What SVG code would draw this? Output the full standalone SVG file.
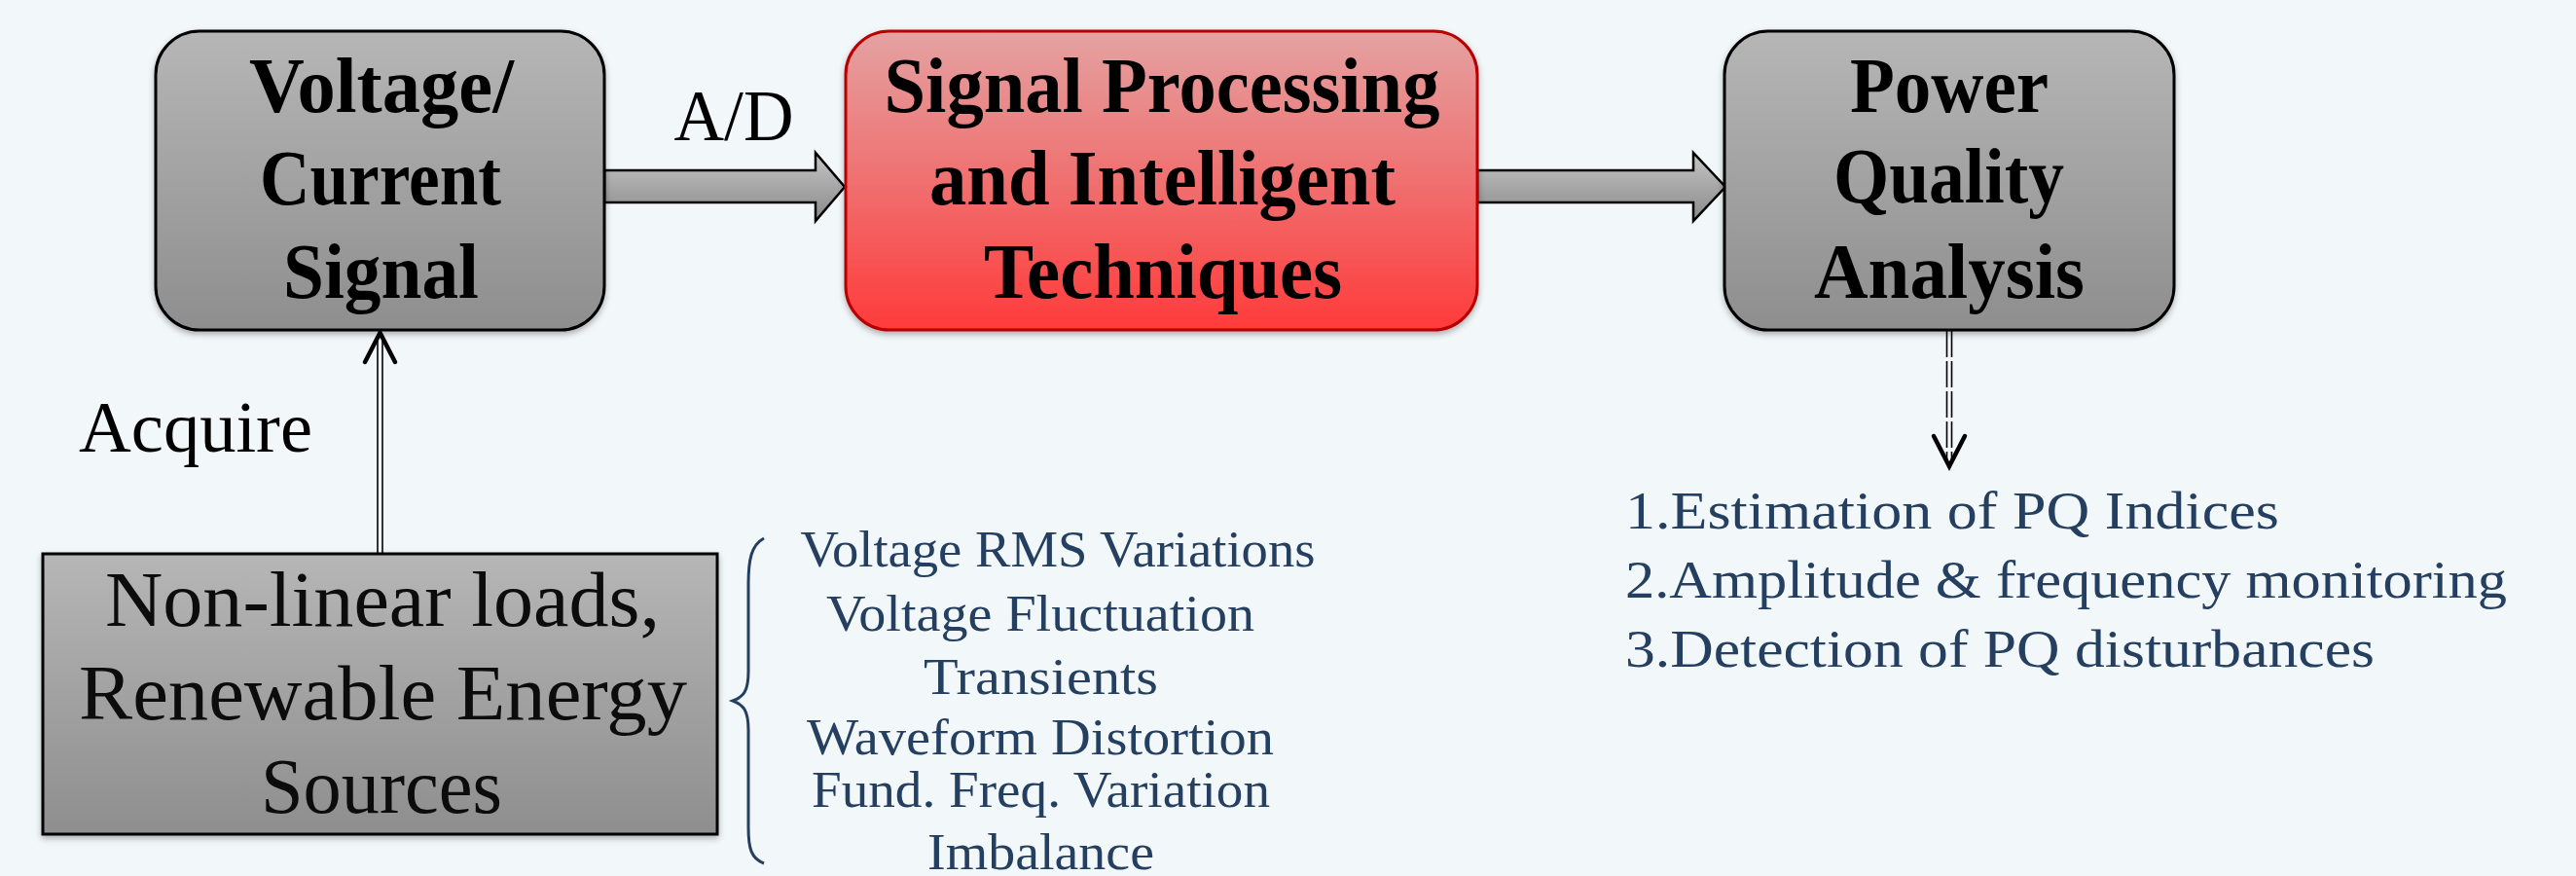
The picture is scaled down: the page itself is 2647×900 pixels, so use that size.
<svg xmlns="http://www.w3.org/2000/svg" width="2647" height="900" viewBox="0 0 2647 900">
  <defs>
    <linearGradient id="gray" x1="0" y1="0" x2="0" y2="1">
      <stop offset="0" stop-color="#b6b6b6"/>
      <stop offset="1" stop-color="#8e8e8e"/>
    </linearGradient>
    <linearGradient id="red" x1="0" y1="0" x2="0" y2="1">
      <stop offset="0" stop-color="#e4a2a2"/>
      <stop offset="0.5" stop-color="#f07070"/>
      <stop offset="1" stop-color="#ff3a3a"/>
    </linearGradient>
    <linearGradient id="shaft" x1="0" y1="0" x2="0" y2="1">
      <stop offset="0" stop-color="#c4c4c4"/>
      <stop offset="1" stop-color="#8a8a8a"/>
    </linearGradient>
    <filter id="shadow" x="-5%" y="-5%" width="110%" height="115%">
      <feDropShadow dx="0" dy="3" stdDeviation="3" flood-color="#000" flood-opacity="0.3"/>
    </filter>
  </defs>
  <style>
    .title { font-family: "Liberation Serif", "Times New Roman", serif; font-weight: bold; font-size: 80px; fill: #000; text-anchor: middle; }
    .label { font-family: "Liberation Serif", "Times New Roman", serif; font-size: 75px; fill: #000; text-anchor: middle; }
    .src { font-family: "Liberation Serif", "Times New Roman", serif; font-size: 80px; fill: #0c0c0c; text-anchor: middle; }
    .item { font-family: "Liberation Serif", "Times New Roman", serif; font-size: 52px; fill: #243f60; text-anchor: middle; }
    .out { font-family: "Liberation Serif", "Times New Roman", serif; font-size: 54px; fill: #243f60; }
    .box { stroke: #000; stroke-width: 3; }
    .blk { fill: url(#shaft); stroke: #000; stroke-width: 2.5; stroke-linejoin: miter; }
    .line { stroke: #000; stroke-width: 1.6; fill: none; }
    .head { stroke: #000; stroke-width: 4.5; fill: none; stroke-linecap: round; stroke-linejoin: miter; }
  </style>

  <rect x="0" y="0" width="2647" height="900" fill="#f2f7fa"/>

  <!-- connectors -->
  <g id="connectors">
    <!-- A/D block arrow -->
    <polygon class="blk" points="621,175 838,175 838,157 868,192 838,227 838,208 621,208"/>
    <text class="label" x="754" y="144" textLength="123" lengthAdjust="spacingAndGlyphs">A/D</text>
    <!-- processing to analysis -->
    <polygon class="blk" points="1518,175 1740,175 1740,157 1773,192 1740,227 1740,208 1518,208"/>
    <!-- acquire: double line upward -->
    <line class="line" x1="388" y1="569" x2="388" y2="346"/>
    <line class="line" x1="393" y1="569" x2="393" y2="346"/>
    <polyline class="head" points="375,372 390.5,342 406,372"/>
    <text class="label" x="201" y="464" textLength="240" lengthAdjust="spacingAndGlyphs">Acquire</text>
    <!-- analysis to outputs: dashed double line -->
    <line class="line" x1="2000.5" y1="340" x2="2000.5" y2="476" stroke-dasharray="27 4"/>
    <line class="line" x1="2005.5" y1="340" x2="2005.5" y2="476" stroke-dasharray="27 4"/>
    <polyline class="head" points="1987,448 2003,479 2019,448"/>
    <!-- brace -->
    <path d="M785,553 C772,560 769,575 769,600 L769,690 C769,710 764,716 753,720 C764,724 769,730 769,750 L769,850 C769,872 772,882 785,887" fill="none" stroke="#243f60" stroke-width="3"/>
  </g>

  <!-- Voltage/Current Signal -->
  <g id="node-signal">
    <rect class="box" x="160" y="32" width="461" height="307" rx="45" ry="45" fill="url(#gray)" filter="url(#shadow)"/>
    <text class="title" x="392" y="115" textLength="272" lengthAdjust="spacingAndGlyphs">Voltage/</text>
    <text class="title" x="391" y="210" textLength="248" lengthAdjust="spacingAndGlyphs">Current</text>
    <text class="title" x="391.5" y="306" textLength="201" lengthAdjust="spacingAndGlyphs">Signal</text>
  </g>

  <!-- Signal Processing and Intelligent Techniques -->
  <g id="node-processing">
    <rect x="869" y="32" width="649" height="307" rx="45" ry="45" fill="url(#red)" stroke="#b80000" stroke-width="3" filter="url(#shadow)"/>
    <text class="title" x="1194" y="115" textLength="571" lengthAdjust="spacingAndGlyphs">Signal Processing</text>
    <text class="title" x="1194.5" y="210" textLength="479" lengthAdjust="spacingAndGlyphs">and Intelligent</text>
    <text class="title" x="1195" y="306" textLength="368" lengthAdjust="spacingAndGlyphs">Techniques</text>
  </g>

  <!-- Power Quality Analysis -->
  <g id="node-analysis">
    <rect class="box" x="1772" y="32" width="462" height="307" rx="45" ry="45" fill="url(#gray)" filter="url(#shadow)"/>
    <text class="title" x="2003" y="115" textLength="204" lengthAdjust="spacingAndGlyphs">Power</text>
    <text class="title" x="2002.5" y="208" textLength="237" lengthAdjust="spacingAndGlyphs">Quality</text>
    <text class="title" x="2003" y="306" textLength="278" lengthAdjust="spacingAndGlyphs">Analysis</text>
  </g>

  <!-- Sources -->
  <g id="node-sources">
    <rect class="box" x="44" y="569" width="693" height="288" fill="url(#gray)" filter="url(#shadow)"/>
    <text class="src" x="393" y="643" textLength="570" lengthAdjust="spacingAndGlyphs">Non-linear loads,</text>
    <text class="src" x="393.5" y="739" textLength="625" lengthAdjust="spacingAndGlyphs">Renewable Energy</text>
    <text class="src" x="392" y="835" textLength="248" lengthAdjust="spacingAndGlyphs">Sources</text>
  </g>

  <!-- Disturbance list -->
  <g id="node-disturbances">
    <text class="item" x="1087" y="582" textLength="529" lengthAdjust="spacingAndGlyphs">Voltage RMS Variations</text>
    <text class="item" x="1069" y="648" textLength="440" lengthAdjust="spacingAndGlyphs">Voltage Fluctuation</text>
    <text class="item" x="1069.5" y="713" textLength="241" lengthAdjust="spacingAndGlyphs">Transients</text>
    <text class="item" x="1069" y="775" textLength="480" lengthAdjust="spacingAndGlyphs">Waveform Distortion</text>
    <text class="item" x="1069.5" y="829" textLength="471" lengthAdjust="spacingAndGlyphs">Fund. Freq. Variation</text>
    <text class="item" x="1069.5" y="893" textLength="233" lengthAdjust="spacingAndGlyphs">Imbalance</text>
  </g>

  <!-- Analysis outputs -->
  <g id="node-outputs">
    <text class="out" x="1670" y="543" textLength="672" lengthAdjust="spacingAndGlyphs">1.Estimation of PQ Indices</text>
    <text class="out" x="1670" y="614" textLength="906" lengthAdjust="spacingAndGlyphs">2.Amplitude &amp; frequency monitoring</text>
    <text class="out" x="1670" y="685" textLength="770" lengthAdjust="spacingAndGlyphs">3.Detection of PQ disturbances</text>
  </g>
</svg>
